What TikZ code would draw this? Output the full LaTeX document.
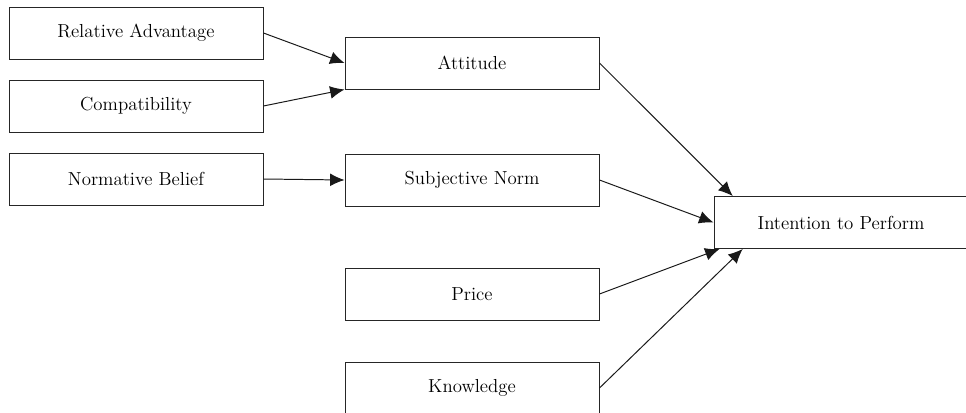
\documentclass[tikz,border=0pt]{standalone}
\usepackage{tikz}
\usetikzlibrary{positioning,arrows.meta}

\tikzset{
  box/.style={draw=black!85,line width=0.7pt,minimum width=6.35cm,minimum height=1.3cm,inner sep=0pt,font=\fontsize{13.4}{16}\selectfont},
  arr/.style={-{Latex[length=3.6mm,width=3.2mm]},line width=0.7pt,black!90}
}

\begin{document}
\begin{tikzpicture}

\useasboundingbox (0,0) rectangle (24.15,-10.3);
\clip (0,0) rectangle (24.15,-10.3);

\node [box] (ra) at (3.4,-0.825) {Relative Advantage};
\node [box] (comp) at (3.4,-2.65) {Compatibility};
\node [box] (nb) at (3.4,-4.475) {Normative Belief};

\node [box] (att) at (11.8,-1.575) {Attitude};
\node [box] (sn) at (11.8,-4.5) {Subjective Norm};
\node [box] (price) at (11.8,-7.35) {Price};
\node [box] (know) at (11.8,-9.7) {Knowledge};

\node [box] (itp) at (21.025,-5.5625) {Intention to Perform};

\draw[arr] (ra.east) to (att.west);
\draw[arr] (comp.east) to (att.south west);
\draw[arr] (nb.east) to (sn.west);

\draw[arr] (att.east) to ([xshift=0.48cm]itp.north west);
\draw[arr] (sn.east) to (itp.west);
\draw[arr] (price.east) to ([xshift=0.15cm]itp.south west);
\draw[arr] (know.east) to ([xshift=0.73cm]itp.south west);

\end{tikzpicture}
\end{document}
